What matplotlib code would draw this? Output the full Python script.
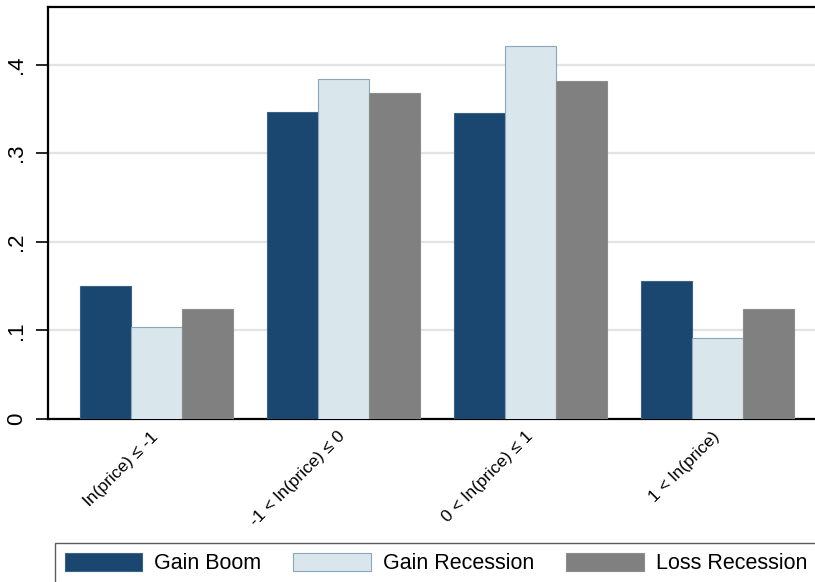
import numpy as np
import matplotlib
import matplotlib.pyplot as plt
from matplotlib.patches import Patch

matplotlib.use('Agg')

# data
categories = ['ln(price) \u2264 -1', '-1 < ln(price) \u2264 0',
              '0 < ln(price) \u2264 1', '1 < ln(price)']
series_names = ['Gain Boom', 'Gain Recession', 'Loss Recession']
gain_boom = [0.150, 0.347, 0.345, 0.156]
gain_recession = [0.104, 0.384, 0.421, 0.091]
loss_recession = [0.124, 0.368, 0.381, 0.124]
y_ticks = [0, 0.1, 0.2, 0.3, 0.4]
y_tick_labels = ['0', '.1', '.2', '.3', '.4']

colors = ['#1a476f', '#d9e6ec', '#808080']
edges = ['#3a6186', '#8aa6bd', '#8c8c8c']

plt.rcParams['font.family'] = ['Liberation Sans', 'DejaVu Sans']

fig = plt.figure(figsize=(8.15, 5.82), dpi=100)
ax = fig.add_axes([48 / 815, 1 - 419 / 582, 1 - 48 / 815, 412 / 582])

x = np.arange(len(categories))
width = 0.2727
for i, vals in enumerate([gain_boom, gain_recession, loss_recession]):
    ax.bar(x + (i - 1) * width, vals, width, color=colors[i],
           edgecolor=edges[i], linewidth=0.8, zorder=3)

ax.set_xlim(-0.578, 3.524)
ax.set_ylim(0, 0.465)
ax.set_yticks(y_ticks)
ax.set_yticklabels(y_tick_labels, rotation=90, va='center', fontsize=16)
ax.grid(axis='y', color='#e3e3e3', linewidth=1.6, zorder=0)
ax.tick_params(axis='y', length=9, width=1.2, pad=6, color='black')

ax.set_xticks(x)
ax.set_xticklabels(categories, rotation=45, ha='right', va='center',
                   rotation_mode='anchor', fontsize=12.5)
ax.tick_params(axis='x', length=0, pad=11)

for side in ['left', 'top', 'bottom']:
    ax.spines[side].set_linewidth(1.6)
    ax.spines[side].set_color('black')
ax.spines['right'].set_visible(False)

handles = [Patch(facecolor=colors[i], edgecolor=edges[i], linewidth=0.8, label=series_names[i])
           for i in range(3)]
leg = fig.legend(handles=handles, ncol=3, loc='upper left',
                 bbox_to_anchor=(55 / 815, 1 - 543 / 582), borderaxespad=0,
                 fontsize=15.5, handlelength=3.6, handleheight=0.95,
                 handletextpad=0.55, columnspacing=1.5, borderpad=0.45,
                 fancybox=False, frameon=True)
leg.get_frame().set_edgecolor('#333333')
leg.get_frame().set_linewidth(1.0)

fig.savefig('out.png', dpi=100)
